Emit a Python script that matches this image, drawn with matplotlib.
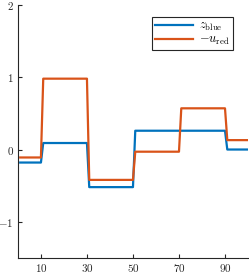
import numpy as np
import matplotlib
matplotlib.use("Agg")
import matplotlib.pyplot as plt

plt.rcParams['mathtext.fontset'] = 'cm'
plt.rcParams['font.family'] = 'serif'
plt.rcParams['font.serif'] = ['cmr10', 'DejaVu Serif']
plt.rcParams['axes.formatter.use_mathtext'] = True

# step segments: (start, end) index ranges and levels
seg_edges = [1, 11, 31, 51, 71, 91, 101]
z_blue_levels = [-0.18, 0.09, -0.52, 0.26, 0.26, 0.0]
u_red_levels = [-0.11, 0.98, -0.42, -0.03, 0.57, 0.13]

x = np.arange(1, 101)
def expand(levels):
    out = np.empty(len(x))
    for i, lv in enumerate(levels):
        out[(x >= seg_edges[i]) & (x < seg_edges[i + 1])] = lv
    return out

z_blue = expand(z_blue_levels)
u_red = expand(u_red_levels)

fig = plt.figure(figsize=(2.49, 2.73), dpi=100)
ax = fig.add_axes([0.072, 0.055, 0.924, 0.927])
ax.plot(x, z_blue, color='#0072BD', lw=1.6, label=r'$z_{\mathrm{blue}}$')
ax.plot(x, u_red, color='#D95319', lw=1.6, label=r'$-u_{\mathrm{red}}$')
ax.set_xlim(0, 100)
ax.set_ylim(-1.5, 2)
ax.set_xticks([10, 30, 50, 70, 90])
ax.set_yticks([-1, 0, 1, 2])
ax.spines['top'].set_visible(False)
ax.spines['right'].set_visible(False)
for s in ['left', 'bottom']:
    ax.spines[s].set_color('#262626')
    ax.spines[s].set_linewidth(0.8)
ax.tick_params(direction='in', length=3, labelsize=8, colors='#262626', pad=3)
leg = ax.legend(loc='upper right', bbox_to_anchor=(0.935, 0.953), fontsize=9,
                handlelength=3.0, fancybox=False, framealpha=1,
                edgecolor='#262626', borderpad=0.25, labelspacing=0.05,
                handletextpad=0.5, borderaxespad=0)
leg.get_frame().set_linewidth(0.8)
fig.savefig('out.png', dpi=100)
